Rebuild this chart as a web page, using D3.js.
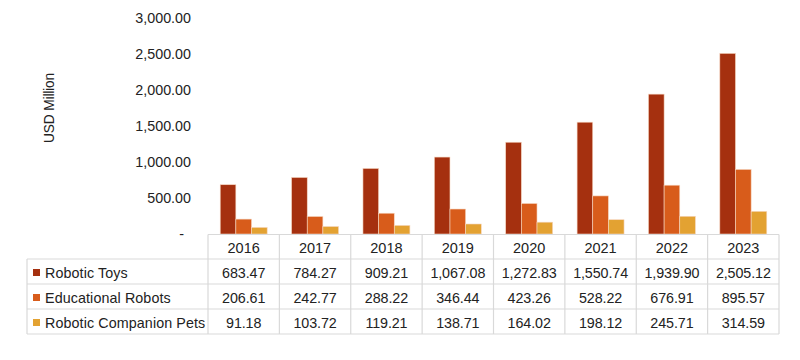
<!DOCTYPE html>
<html><head><meta charset="utf-8">
<script src="https://cdn.jsdelivr.net/npm/d3@7"></script>
<style>body{margin:0;background:#fff}svg{display:block}text{font-family:"Liberation Sans",Arial,sans-serif;fill:#222}</style>
</head><body><svg id="c" width="800" height="360"></svg>
<script>
const years = ["2016","2017","2018","2019","2020","2021","2022","2023"];
const seriesNames = ["Robotic Toys","Educational Robots","Robotic Companion Pets"];
const toys = [683.47,784.27,909.21,1067.08,1272.83,1550.74,1939.90,2505.12];
const edu = [206.61,242.77,288.22,346.44,423.26,528.22,676.91,895.57];
const pets = [91.18,103.72,119.21,138.71,164.02,198.12,245.71,314.59];
const yTicks = [0,500,1000,1500,2000,2500,3000];
const colors = ["#A5300F","#D85C1B","#E3A232"];
const seriesVals = [toys, edu, pets];

(function(){
const svg = d3.select("#c");
const FS = "14.3px";
const left = 208, right = 779, plotTop = 17.7, base = 234;
const x = d3.scaleBand().domain(years).range([left, right]);
const xs = d3.scaleBand().domain(seriesNames).range([0, x.bandwidth()]).paddingOuter(0.78).paddingInner(0);
const y = d3.scaleLinear().domain([0,3000]).range([base, plotTop]);

const fmt = d3.format(",.2f");
const yAxis = d3.axisLeft(y).tickValues(yTicks).tickSize(0).tickPadding(0)
  .tickFormat(d => d === 0 ? "-" : fmt(d));
const ga = svg.append("g").attr("transform", "translate(191,0)").call(yAxis);
ga.select(".domain").remove();
ga.selectAll("text").style("font-size",FS).attr("fill","#222").attr("font-family",'"Liberation Sans",Arial,sans-serif').attr("letter-spacing","0px");
ga.selectAll(".tick").filter(d=>d===0).select("text").attr("dx","-7");

svg.append("text").attr("transform","translate(49,108) rotate(-90)").attr("text-anchor","middle")
  .attr("dy","0.35em").style("font-size","13.8px").attr("letter-spacing","-0.2px").text("USD Million");

seriesNames.forEach((s,i)=>{
  svg.append("g").selectAll("rect").data(years).join("rect")
    .attr("x", d => x(d) + xs(s))
    .attr("width", xs.bandwidth())
    .attr("y", (d,j) => y(seriesVals[i][j]))
    .attr("height", (d,j) => base - y(seriesVals[i][j]))
    .attr("fill", colors[i])
    .attr("stroke","#f6d7c2").attr("stroke-width",0.6);
});

const rowH = 25;
const tableTop = base + 0.5;
const headerBottom = tableTop + 24.5;
const rowsY = [headerBottom, headerBottom+rowH, headerBottom+2*rowH, headerBottom+3*rowH];
const labelLeft = 27;
const grid = svg.append("g").attr("stroke","#d9d9d9").attr("stroke-width",1.2).attr("fill","none");
grid.append("line").attr("x1",left).attr("x2",right).attr("y1",tableTop).attr("y2",tableTop);
rowsY.forEach(yy=>grid.append("line").attr("x1",labelLeft).attr("x2",right).attr("y1",yy).attr("y2",yy));
years.concat(["end"]).forEach((d,i)=>{
  const xx = i < years.length ? x(d) : right;
  grid.append("line").attr("x1",xx).attr("x2",xx).attr("y1",tableTop).attr("y2",rowsY[3]);
});
grid.append("line").attr("x1",labelLeft).attr("x2",labelLeft).attr("y1",rowsY[0]).attr("y2",rowsY[3]);

svg.append("g").selectAll("text").data(years).join("text")
  .attr("x", d => x(d) + x.bandwidth()/2).attr("y", tableTop + 18)
  .attr("text-anchor","middle").style("font-size","14.5px").text(d=>d);

seriesNames.forEach((s,i)=>{
  const ry = rowsY[i];
  svg.append("rect").attr("x",33).attr("y",ry+10).attr("width",7).attr("height",7).attr("fill",colors[i]);
  svg.append("text").attr("x",45).attr("y",ry+18.5).style("font-size",FS).attr("letter-spacing","0.1px").text(s);
  svg.append("g").selectAll("text").data(years).join("text")
    .attr("x", d => x(d) + x.bandwidth()/2).attr("y", ry+18.5)
    .attr("text-anchor","middle").style("font-size",FS).attr("letter-spacing","-0.1px")
    .text((d,j)=>fmt(seriesVals[i][j]));
});
})();
</script></body></html>
